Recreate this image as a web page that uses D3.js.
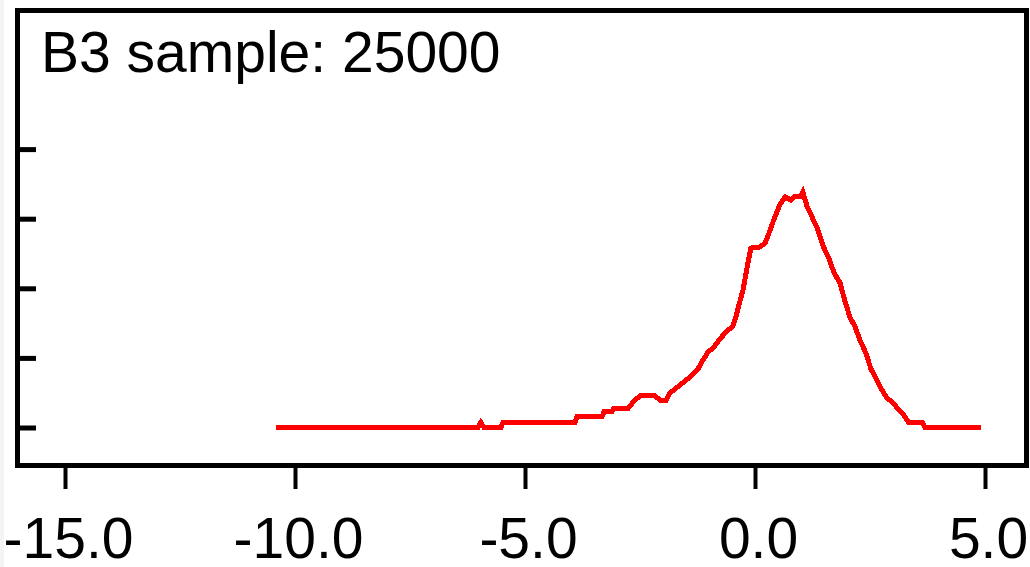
<!DOCTYPE html>
<html>
<head>
<meta charset="utf-8">
<script src="https://cdn.jsdelivr.net/npm/d3@7"></script>
<style>
  body { margin: 0; background: #ffffff; }
  svg { display: block; }
</style>
</head>
<body>
<svg id="graph" width="1030" height="567"></svg>
<script>
// density trace (x value, density)
const xs = [-10.41, -6.02, -5.96, -5.89, -5.52, -5.48, -3.91, -3.87, -3.33, -3.28,
            -3.11, -3.07, -2.76, -2.63, -2.50, -2.17, -2.07, -1.93, -1.85, -1.63,
            -1.41, -1.24, -1.13, -1.02, -0.89, -0.78, -0.65, -0.48, -0.41, -0.35,
            -0.26, -0.15, -0.09, 0.11, 0.22, 0.33, 0.43, 0.54, 0.65, 0.78,
            0.85, 0.98, 1.04, 1.13, 1.26, 1.37, 1.48, 1.61, 1.72, 1.85,
            1.96, 2.07, 2.17, 2.28, 2.41, 2.52, 2.65, 2.76, 2.87, 3.00,
            3.11, 3.22, 3.33, 3.63, 3.70, 4.91];
const density = [0, 0, 0.0072, 0, 0, 0.0072, 0.0072, 0.0151, 0.0151, 0.0230,
                 0.0230, 0.0273, 0.0273, 0.0381, 0.0453, 0.0453, 0.0395, 0.0395, 0.0496, 0.0611,
                 0.0726, 0.0841, 0.0970, 0.1085, 0.1157, 0.1257, 0.1358, 0.1458, 0.1602, 0.1760,
                 0.1976, 0.2378, 0.2579, 0.2593, 0.2651, 0.2838, 0.3024, 0.3197, 0.3312, 0.3269,
                 0.3312, 0.3312, 0.3384, 0.3182, 0.2996, 0.2838, 0.2608, 0.2421, 0.2220, 0.2076,
                 0.1803, 0.1573, 0.1458, 0.1257, 0.1070, 0.0841, 0.0683, 0.0539, 0.0424, 0.0352,
                 0.0266, 0.0194, 0.0079, 0.0079, 0, 0];

const xTicks = [-15, -10, -5, 0, 5];
const yTicks = [0, 0.1, 0.2, 0.3, 0.4];
const title = "B3 sample: 25000";

const svg = d3.select("#graph");
const font = "'Liberation Sans', Arial, sans-serif";

// box edges (stroke centres)
const boxL = 17.5, boxR = 1026.5, boxT = 10.5, boxB = 465.5;

const xScale = d3.scaleLinear().domain([-15, 5]).range([65, 985]);
const yScale = d3.scaleLinear().domain([0, 0.6]).range([427.5, 9.9]);

// faint strip at the very left edge
svg.append("rect")
    .attr("x", 0).attr("y", 0)
    .attr("width", 4).attr("height", 567)
    .attr("fill", "#f4f4f4");

// y ticks, pointing into the box, no labels
const yAxis = svg.append("g")
    .attr("transform", `translate(${boxL},0)`)
    .call(d3.axisLeft(yScale).tickValues(yTicks).tickSize(-18.5).tickFormat(""));
yAxis.select(".domain").remove();
yAxis.selectAll(".tick line")
    .attr("stroke", "#000")
    .attr("stroke-width", 5);

// x ticks below the box
const xAxis = svg.append("g")
    .attr("transform", `translate(0,${boxB})`)
    .call(d3.axisBottom(xScale).tickValues(xTicks).tickSize(23.5));
xAxis.select(".domain").remove();
xAxis.selectAll(".tick line")
    .attr("stroke", "#000")
    .attr("stroke-width", 4);
xAxis.selectAll(".tick text")
    .attr("x", 3)
    .attr("y", 92)
    .attr("dy", 0)
    .attr("fill", "#000")
    .style("font-family", font)
    .style("font-size", "57px")
    .text(d => d.toFixed(1));

// frame
svg.append("rect")
    .attr("x", boxL).attr("y", boxT)
    .attr("width", boxR - boxL).attr("height", boxB - boxT)
    .attr("fill", "none")
    .attr("stroke", "#000")
    .attr("stroke-width", 5);

// title
svg.append("text")
    .attr("x", 41)
    .attr("y", 72)
    .style("font-family", font)
    .style("font-size", "57px")
    .attr("fill", "#000")
    .text(title);

// the trace
const line = d3.line()
    .x((d, i) => xScale(xs[i]))
    .y(d => yScale(d));

svg.append("path")
    .datum(density)
    .attr("fill", "none")
    .attr("stroke", "#ff0000")
    .attr("stroke-width", 5)
    .attr("stroke-linejoin", "miter")
    .attr("shape-rendering", "crispEdges")
    .attr("d", line);
</script>
</body>
</html>
